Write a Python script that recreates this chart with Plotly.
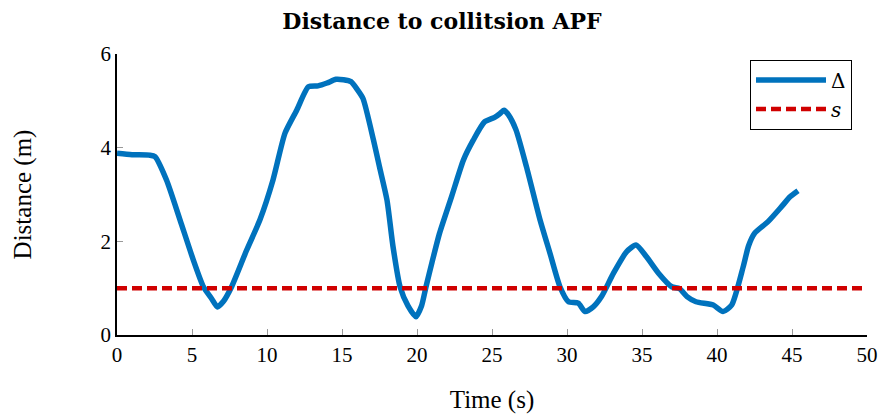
import plotly.graph_objects as go

time_s = [0.0, 1.0, 2.2, 2.53, 3.3, 4.2, 5.09, 5.76, 6.3, 6.69, 7.1, 7.64, 8.64, 9.53, 10.4, 11.2,
          11.98, 12.76, 13.4, 14.0, 14.6, 15.1, 15.6, 16.0, 16.4, 17.1, 17.5, 18.0, 18.4, 18.87,
          19.4, 19.93, 20.3, 20.6, 21.0, 21.5, 22.3, 23.1, 23.75, 24.5, 25.2, 25.5, 25.8, 26.1,
          26.6, 27.3, 28.2, 28.87, 29.53, 30.1, 30.75, 31.2, 31.75, 32.3, 33.1, 33.98, 34.6, 35.3,
          36.1, 36.98, 37.5, 38.0, 38.6, 39.75, 40.4, 40.98, 41.75, 42.1, 42.5, 43.4, 44.3, 44.87, 45.4]
delta_m = [3.88, 3.85, 3.84, 3.81, 3.31, 2.46, 1.60, 1.03, 0.78, 0.60, 0.72, 1.03, 1.81, 2.46, 3.31, 4.31,
           4.80, 5.30, 5.32, 5.38, 5.46, 5.45, 5.41, 5.25, 5.05, 4.16, 3.59, 2.88, 1.89, 1.03,
           0.62, 0.39, 0.62, 1.03, 1.55, 2.17, 2.95, 3.74, 4.16, 4.55, 4.65, 4.72, 4.80, 4.70,
           4.38, 3.59, 2.46, 1.74, 1.03, 0.71, 0.68, 0.50, 0.60, 0.82, 1.32, 1.78, 1.92, 1.67,
           1.32, 1.03, 0.99, 0.82, 0.71, 0.64, 0.50, 0.64, 1.46, 1.90, 2.17, 2.42, 2.74, 2.95, 3.08]

safe_t = [0, 50]
safe_d = [1, 1]

x_ticks = [0, 5, 10, 15, 20, 25, 30, 35, 40, 45, 50]
y_ticks = [0, 2, 4, 6]

font_family = "Liberation Serif"
title_family = "DejaVu Serif"

fig = go.Figure()
fig.add_trace(go.Scatter(x=time_s, y=delta_m, mode="lines", name="Δ",
                         line=dict(color="#0072BD", width=5.5, shape="spline", smoothing=0.6)))
fig.add_trace(go.Scatter(x=safe_t, y=safe_d, mode="lines", name="<i>s</i>",
                         line=dict(color="#D00000", width=4.5, dash="10px,5px")))

fig.update_layout(
    width=884, height=414,
    margin=dict(l=117, r=17, t=54, b=79, autoexpand=False),
    plot_bgcolor="white", paper_bgcolor="white",
    font=dict(family=font_family, size=21, color="black"),
    title=dict(text="<b>Distance to collitsion APF</b>", x=0.5, xanchor="center",
               y=0.968, yanchor="top", font=dict(family=title_family, size=22)),
    showlegend=True,
    legend=dict(x=0.98, y=0.98, xanchor="right", yanchor="top",
                bordercolor="black", borderwidth=1, bgcolor="white", itemwidth=70,
                font=dict(family="DejaVu Serif", size=20, color="black"), tracegroupgap=0),
)
fig.update_xaxes(range=[0, 50], tickvals=x_ticks, ticks="inside", ticklen=6, tickcolor="#999999",
                 showline=True, linecolor="black", linewidth=1.5, showgrid=False, zeroline=False,
                 automargin=False,
                 title=dict(text="Time (s)", standoff=26), tickfont=dict(family=font_family, size=21))
fig.update_yaxes(range=[0, 6], tickvals=y_ticks, ticks="inside", ticklen=6, tickcolor="#999999",
                 showline=True, linecolor="black", linewidth=1.5, showgrid=False, zeroline=False,
                 automargin=False,
                 title=dict(text="Distance (m)", standoff=62), tickfont=dict(family=font_family, size=21))

fig.write_html("out.html")
